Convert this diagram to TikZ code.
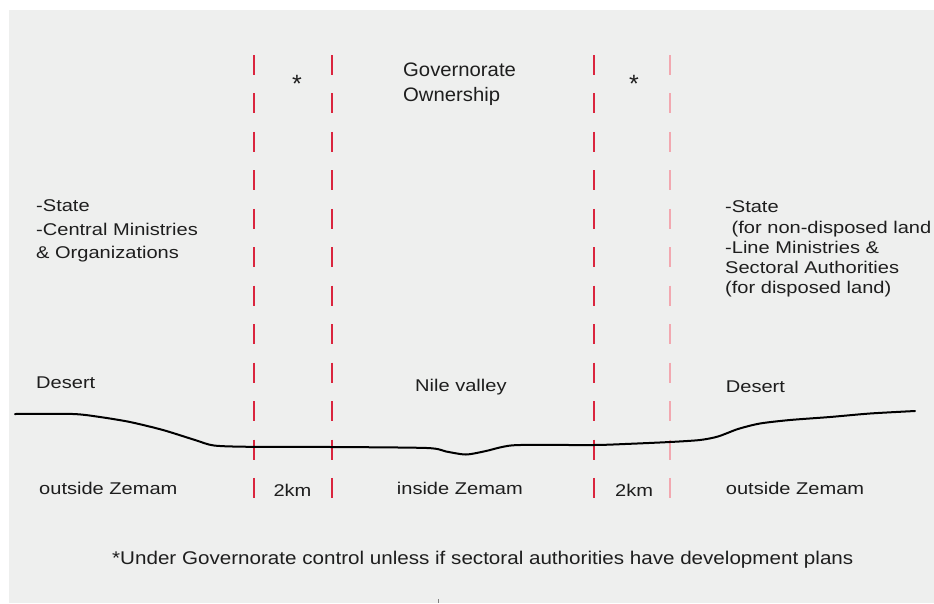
\documentclass[tikz,border=0pt]{standalone}
\usepackage{fontspec}
\setmainfont{Liberation Sans}
\newfontfamily\bodyf[FakeStretch=1.18]{Liberation Sans}
\newfontfamily\govf[FakeStretch=1.04]{Liberation Sans}
\newfontfamily\notef[FakeStretch=1.12]{Liberation Sans}
\definecolor{bggray}{RGB}{238,239,238}
\definecolor{zred}{RGB}{218,37,62}
\definecolor{zpink}{RGB}{242,168,176}
\definecolor{txt}{RGB}{30,30,30}
\begin{document}
\begin{tikzpicture}[x=1pt,y=-1pt,
  lbl/.style={inner sep=0pt, anchor=base west, text=txt, font=\bodyf\fontsize{17}{20}\selectfont},
  gov/.style={inner sep=0pt, anchor=base west, text=txt, font=\govf\fontsize{19.5}{24}\selectfont},
  astk/.style={inner sep=0pt, anchor=base, text=txt, font=\fontsize{25}{28}\selectfont},
  note/.style={inner sep=0pt, anchor=base west, text=txt, font=\notef\fontsize{18.4}{22}\selectfont},
  zone/.style={line width=1.2pt, dash pattern=on 20pt off 18.45pt},
  ground/.style={line width=2pt, black, line join=round, line cap=round}]
\useasboundingbox (0,0) rectangle (934,603);
\fill[white] (0,0) rectangle (934,603);
\fill[bggray] (9,10) rectangle (934,603);

% zone boundaries
\coordinate (l1t) at (254,55); \coordinate (l1b) at (254,498);
\coordinate (l2t) at (332,55); \coordinate (l2b) at (332,498);
\coordinate (l3t) at (594,55); \coordinate (l3b) at (594,498);
\coordinate (l4t) at (670,55); \coordinate (l4b) at (670,498);
\draw[zone, zred] (l1t) -- (l1b);
\draw[zone, zred] (l2t) -- (l2b);
\draw[zone, zred] (l3t) -- (l3b);
\draw[zone, zpink] (l4t) -- (l4b);

% ground profile
\draw[ground] plot[smooth, tension=0.45] coordinates {
 (15,414) (73,414) (100,417) (130,422) (163,430) (195,440) (214,445.5)
 (250,446.8) (332,447) (427,448) (446,451.5) (466,454.5) (486,451)
 (502,447) (520,445) (594,445) (625,444) (670,442) (700,440) (718,436.5)
 (738,429) (760,423.5) (790,420) (830,417) (870,413.5) (915,411)};

% top labels
\node[astk] (ast1) at (297,92) {*};
\node[astk] (ast2) at (634,92) {*};
\node[gov] (gov1) at (403,76.5) {Governorate};
\node[gov] (gov2) at (403,101.7) {Ownership};

% left ownership
\node[lbl] (ls1) at (36,211.7) {-State};
\node[lbl] (ls2) at (36,235) {-Central Ministries};
\node[lbl] (ls3) at (36,258) {\& Organizations};

% right ownership
\node[lbl] (rs1) at (725,212.7) {-State};
\node[lbl] (rs2) at (731.5,233.3) {(for non-disposed land};
\node[lbl] (rs3) at (725,253.3) {-Line Ministries \&};
\node[lbl] (rs4) at (725,273.3) {Sectoral Authorities};
\node[lbl] (rs5) at (725,293.3) {(for disposed land)};

% terrain labels
\node[lbl] (des1) at (36,388.5) {Desert};
\node[lbl] (nile) at (415,391.7) {Nile valley};
\node[lbl] (des2) at (725.7,392.5) {Desert};

% bottom labels
\node[lbl] (out1) at (39,494.3) {outside Zemam};
\node[lbl] (km1) at (273.3,496.7) {2km};
\node[lbl] (ins) at (396.7,494) {inside Zemam};
\node[lbl] (km2) at (615,496.7) {2km};
\node[lbl] (out2) at (725.7,494.3) {outside Zemam};

% footnote
\node[note] (fn) at (112,564) {*Under Governorate control unless if sectoral authorities have development plans};

% small tick at bottom
\coordinate (tk1) at (438,599); \coordinate (tk2) at (438,603);
\draw[gray, line width=1pt] (tk1) -- (tk2);
\end{tikzpicture}
\end{document}
